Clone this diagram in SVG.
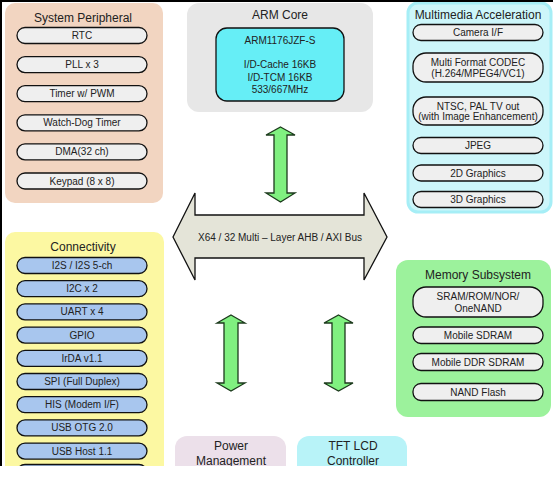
<svg xmlns="http://www.w3.org/2000/svg" width="553" height="484" viewBox="0 0 553 484">
<defs>
<style>
text{font-family:"Liberation Sans",Arial,sans-serif;fill:#222;text-anchor:middle}
.t{font-size:12px}
.p{font-size:10px}
.pill{fill:#efefef;stroke:#111;stroke-width:1.3}
.bpill{fill:#a8c6ee;stroke:#111;stroke-width:1.3}
.garrow{fill:#80f080;stroke:#1c3a1c;stroke-width:1.3;stroke-linejoin:miter}
</style>
<clipPath id="clip"><rect x="0" y="0" width="553" height="466"/></clipPath>
</defs>
<rect x="0" y="0" width="553" height="484" fill="#fff"/>
<g clip-path="url(#clip)">
<g id="system-peripheral">
<rect x="5" y="3" width="158" height="200" rx="10" fill="#f2d5c1"/>
<text class="t" x="83" y="22">System Peripheral</text>
<rect class="pill" x="17" y="27.5" width="130" height="16" rx="8"/><text class="p" x="82" y="39">RTC</text>
<rect class="pill" x="17" y="56.6" width="130" height="16" rx="8"/><text class="p" x="82" y="68">PLL x 3</text>
<rect class="pill" x="17" y="85.7" width="130" height="16" rx="8"/><text class="p" x="82" y="97">Timer w/ PWM</text>
<rect class="pill" x="17" y="114.8" width="130" height="16" rx="8"/><text class="p" x="82" y="126.3">Watch-Dog Timer</text>
<rect class="pill" x="17" y="143.9" width="130" height="16" rx="8"/><text class="p" x="82" y="155.4">DMA(32 ch)</text>
<rect class="pill" x="17" y="173" width="130" height="16" rx="8"/><text class="p" x="82" y="184.5">Keypad (8 x 8)</text>
</g>
<g id="arm-core">
<rect x="187" y="3" width="186" height="109" rx="12" fill="#e7e7e7"/>
<text class="t" x="280" y="19">ARM Core</text>
<rect x="216" y="28" width="128" height="73" rx="11" fill="#66eef6" stroke="#111" stroke-width="1.3"/>
<text class="p" x="280" y="44">ARM1176JZF-S</text>
<text class="p" x="280" y="68">I/D-Cache 16KB</text>
<text class="p" x="280" y="80.5">I/D-TCM 16KB</text>
<text class="p" x="280" y="93">533/667MHz</text>
</g>
<g id="multimedia-acceleration">
<rect x="408" y="3" width="143" height="209" rx="10" fill="#cdf6fa" stroke="#a6eef6" stroke-width="3"/>
<text class="t" x="478" y="19">Multimedia Acceleration</text>
<rect class="pill" x="413" y="24.5" width="130" height="16" rx="8"/><text class="p" x="478" y="36">Camera I/F</text>
<rect class="pill" x="413" y="53" width="130" height="29" rx="13"/><text class="p" x="478" y="66">Multi Format CODEC</text><text class="p" x="478" y="77">(H.264/MPEG4/VC1)</text>
<rect class="pill" x="413" y="97" width="130" height="28" rx="13"/><text class="p" x="478" y="109.5">NTSC, PAL TV out</text><text class="p" x="478" y="120">(with Image Enhancement)</text>
<rect class="pill" x="413" y="137.5" width="130" height="16" rx="8"/><text class="p" x="478" y="149">JPEG</text>
<rect class="pill" x="413" y="165" width="130" height="16" rx="8"/><text class="p" x="478" y="176.5">2D Graphics</text>
<rect class="pill" x="413" y="191.5" width="130" height="16" rx="8"/><text class="p" x="478" y="203">3D Graphics</text>
</g>
<g id="connectivity">
<rect x="5" y="232" width="159" height="260" rx="10" fill="#fcf8a2"/>
<text class="t" x="83" y="251">Connectivity</text>
<rect class="bpill" x="17" y="257.5" width="130" height="16" rx="8"/><text class="p" x="82" y="269">I2S / I2S 5-ch</text>
<rect class="bpill" x="17" y="280.7" width="130" height="16" rx="8"/><text class="p" x="82" y="292.2">I2C x 2</text>
<rect class="bpill" x="17" y="303.9" width="130" height="16" rx="8"/><text class="p" x="82" y="315.4">UART x 4</text>
<rect class="bpill" x="17" y="327.1" width="130" height="16" rx="8"/><text class="p" x="82" y="338.6">GPIO</text>
<rect class="bpill" x="17" y="350.3" width="130" height="16" rx="8"/><text class="p" x="82" y="361.8">IrDA v1.1</text>
<rect class="bpill" x="17" y="373.5" width="130" height="16" rx="8"/><text class="p" x="82" y="385">SPI (Full Duplex)</text>
<rect class="bpill" x="17" y="396.7" width="130" height="16" rx="8"/><text class="p" x="82" y="408.2">HIS (Modem I/F)</text>
<rect class="bpill" x="17" y="419.9" width="130" height="16" rx="8"/><text class="p" x="82" y="431.4">USB OTG 2.0</text>
<rect class="bpill" x="17" y="443.1" width="130" height="16" rx="8"/><text class="p" x="82" y="454.6">USB Host 1.1</text>
<rect class="bpill" x="17" y="464.5" width="130" height="16" rx="8"/>
</g>
<g id="memory-subsystem">
<rect x="396" y="260" width="155" height="157" rx="12" fill="#9cf29c"/>
<text class="t" x="478" y="279">Memory Subsystem</text>
<rect class="pill" x="413" y="287" width="130" height="30" rx="13"/><text class="p" x="478" y="299.5">SRAM/ROM/NOR/</text><text class="p" x="478" y="312">OneNAND</text>
<rect class="pill" x="413" y="327" width="130" height="16.5" rx="8"/><text class="p" x="478" y="338.8">Mobile SDRAM</text>
<rect class="pill" x="413" y="353.5" width="130" height="17" rx="8"/><text class="p" x="478" y="365.5">Mobile DDR SDRAM</text>
<rect class="pill" x="413" y="383.5" width="130" height="17" rx="8"/><text class="p" x="478" y="395.5">NAND Flash</text>
</g>
<g id="power-management">
<rect x="175" y="436" width="111" height="50" rx="12" fill="#ece0ea"/>
<text class="t" x="231" y="450">Power</text>
<text class="t" x="231" y="465">Management</text>
</g>
<g id="tft-lcd-controller">
<rect x="297" y="436" width="110" height="50" rx="12" fill="#b8f3f8"/>
<text class="t" x="353" y="450">TFT LCD</text>
<text class="t" x="353" y="465">Controller</text>
</g>
<g id="connectors">
<path id="bus" d="M173,237 L195,193 L195,215 L364,215 L364,193 L387,237 L364,280 L364,258 L195,258 L195,280 Z" fill="#e4e4d8" stroke="#111" stroke-width="1.3"/>
<text class="p" x="280" y="240.5">X64 / 32 Multi – Layer AHB / AXI Bus</text>
<path class="garrow" d="M280.5,127 L295,135 L287,135 L287,193 L295,193 L280.5,202 L266,193 L274,193 L274,135 L266,135 Z"/>
<path class="garrow" d="M231,315 L245,323 L238,323 L238,383 L245,383 L231,391 L217,383 L224,383 L224,323 L217,323 Z"/>
<path class="garrow" d="M338.5,315 L353,323 L345,323 L345,383 L353,383 L338.5,391 L324,383 L332,383 L332,323 L324,323 Z"/>
</g>
</g>
<g id="frame" stroke="#000" stroke-width="2">
<line x1="0" y1="1" x2="553" y2="1"/>
<line x1="1" y1="0" x2="1" y2="466"/>
</g>
</svg>
